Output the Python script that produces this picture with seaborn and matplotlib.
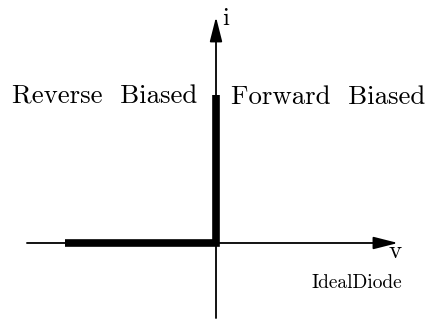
import matplotlib
matplotlib.use("Agg")
import matplotlib.pyplot as plt
import seaborn as sns
import pandas as pd

# Ideal diode characteristic (normalised units)
voltage = [-1.0, 0.0, 0.0]
current = [0.0, 0.0, 1.0]
region_labels = ["Reverse  Biased", "Forward  Biased"]
axis_labels = ["v", "i"]
caption = "IdealDiode"

sns.set_theme(style="white")
plt.rcParams["axes.formatter.use_mathtext"] = True

fig = plt.figure(figsize=(4.29, 3.2), dpi=100)
ax = fig.add_axes([0, 0, 1, 1])

df = pd.DataFrame({"v": voltage, "i": current})
sns.lineplot(data=df, x="v", y="i", sort=False, estimator=None, ax=ax,
             color="black", linewidth=5.5,
             solid_joinstyle="miter", solid_capstyle="butt", zorder=3)

ax.set_xlim(-1.4305, 1.4106)
ax.set_ylim(-0.5203, 1.6419)
ax.set_axis_off()

arrow = dict(arrowstyle="-|>,head_length=1.5,head_width=0.38", color="black",
             lw=1.3, shrinkA=0, shrinkB=0, mutation_scale=10)
# horizontal axis
ax.annotate("", xy=(1.205, 0), xytext=(-1.252, 0), arrowprops=arrow, zorder=2)
# vertical axis
ax.annotate("", xy=(0, 1.527), xytext=(0, -0.507), arrowprops=arrow, zorder=2)

font = "cmr10"
ax.text(-0.735, 0.94, region_labels[0], fontfamily=font, fontsize=19.3,
        ha="center", va="baseline", color="black")
ax.text(0.745, 0.94, region_labels[1], fontfamily=font, fontsize=19.3,
        ha="center", va="baseline", color="black")
ax.text(1.14, -0.101, axis_labels[0], fontfamily=font, fontsize=18,
        ha="left", va="baseline", color="black")
ax.text(0.04, 1.473, axis_labels[1], fontfamily=font, fontsize=18,
        ha="left", va="baseline", color="black")
ax.text(0.934, -0.304, caption, fontfamily=font, fontsize=14,
        ha="center", va="baseline", color="black")

fig.savefig("out.png", dpi=100)
